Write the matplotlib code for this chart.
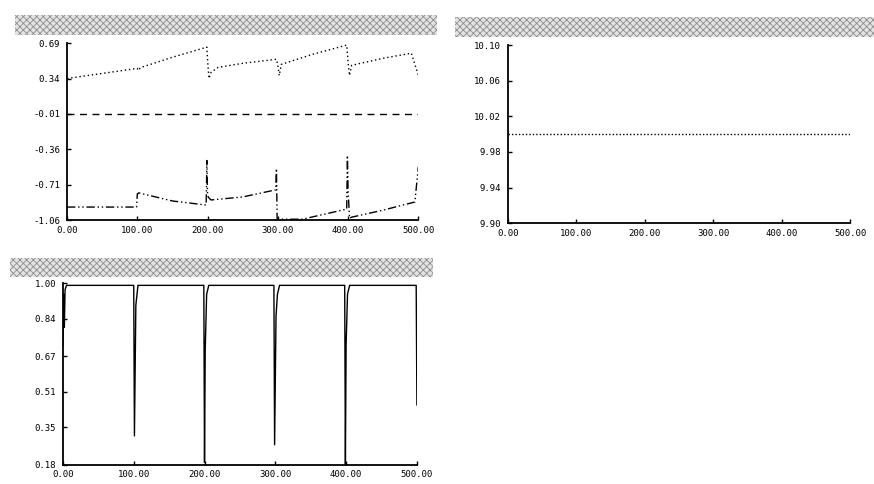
import matplotlib
matplotlib.use("Agg")
import matplotlib.pyplot as plt
from matplotlib.patches import Rectangle

# ── data ─────────────────────────────────────────────────────
x_ticks = [0, 100, 200, 300, 400, 500]
x_labels = ["0.00", "100.00", "200.00", "300.00", "400.00", "500.00"]

# panel 1 (top left)
p1_yticks = [-1.06, -0.71, -0.36, -0.01, 0.34, 0.69]
upper_x = [0, 60, 100, 101, 105, 110, 150, 199, 200, 202, 205, 215, 250, 298, 300, 302, 305, 350, 398, 400, 402, 405, 450, 490, 500]
upper_y = [0.34, 0.40, 0.44, 0.42, 0.45, 0.46, 0.55, 0.65, 0.52, 0.34, 0.40, 0.45, 0.49, 0.53, 0.47, 0.37, 0.48, 0.58, 0.67, 0.50, 0.37, 0.47, 0.54, 0.59, 0.37]
mid_x = [0, 500]
mid_y = [-0.01, -0.01]
lower_x = [0, 99, 100, 102, 150, 198, 199, 200, 202, 205, 250, 297, 298, 299, 301, 335, 398, 399, 400, 401, 402, 405, 450, 495, 500]
lower_y = [-0.93, -0.93, -0.80, -0.79, -0.87, -0.91, -0.47, -0.82, -0.84, -0.86, -0.83, -0.76, -0.55, -1.05, -1.05, -1.05, -0.95, -0.42, -0.78, -0.90, -1.04, -1.03, -0.96, -0.88, -0.53]

# panel 2 (top right)
p2_yticks = [9.90, 9.94, 9.98, 10.02, 10.06, 10.10]
flat_x = [0, 500]
flat_y = [10.00, 10.00]

# panel 3 (bottom left)
p3_yticks = [0.18, 0.35, 0.51, 0.67, 0.84, 1.00]
frac_x = [0, 1, 2, 3, 5, 100, 101, 103, 106, 199, 200, 201, 203, 206, 298, 299, 301, 303, 306, 398, 399, 400, 402, 405, 498, 499, 500]
frac_y = [0.72, 0.95, 0.80, 0.97, 0.99, 0.99, 0.31, 0.90, 0.99, 0.99, 0.19, 0.70, 0.95, 0.99, 0.99, 0.27, 0.85, 0.95, 0.99, 0.99, 0.18, 0.72, 0.95, 0.99, 0.99, 0.99, 0.45]

plt.rcParams.update({
    "font.family": "DejaVu Sans Mono",
    "font.size": 6.5,
    "hatch.color": "#8c8c8c",
    "hatch.linewidth": 0.6,
})

fig = plt.figure(figsize=(8.74, 4.84), dpi=100)


def _title_bar(x0, y0, x1, y1):
    # pixel box → figure fraction; hatched grey strip like the scan
    W, H = 874, 484
    fig.patches.append(Rectangle(
        (x0 / W, 1 - y1 / H), (x1 - x0) / W, (y1 - y0) / H,
        transform=fig.transFigure, facecolor="#e4e4e4",
        edgecolor="#8c8c8c", linewidth=0, hatch="xxxxx", zorder=0))


def _style(ax, yticks, fmt="{:.2f}"):
    ax.set_xlim(0, 500)
    ax.set_ylim(yticks[0], yticks[-1])
    ax.set_xticks(x_ticks)
    ax.set_xticklabels(x_labels)
    ax.set_yticks(yticks)
    ax.set_yticklabels([fmt.format(v) for v in yticks])
    for s in ["top", "right"]:
        ax.spines[s].set_visible(False)
    for s in ["left", "bottom"]:
        ax.spines[s].set_linewidth(1.3)
    ax.tick_params(direction="in", length=3, width=1, labelsize=6.5)
    ax.tick_params(axis="y", pad=5)
    ax.tick_params(axis="x", pad=4)


# ── top left ────────────────────────────────────────────────
_title_bar(15, 15, 437, 35)
ax1 = fig.add_axes([0.0767, 0.545, 0.402, 0.366])
ax1.plot(upper_x, upper_y, color="black", lw=1.0, ls=(0, (1, 2)))
ax1.plot(mid_x, mid_y, color="black", lw=1.0, ls=(0, (5, 4)))
ax1.plot(lower_x, lower_y, color="black", lw=1.0,
         ls=(0, (6, 2, 1, 2, 1, 2)))
_style(ax1, p1_yticks)

# ── top right ───────────────────────────────────────────────
_title_bar(455, 17, 874, 37)
ax2 = fig.add_axes([0.581, 0.539, 0.392, 0.368])
ax2.plot(flat_x, flat_y, color="black", lw=1.0, ls=(0, (1, 1.5)))
_style(ax2, p2_yticks)

# ── bottom left ─────────────────────────────────────────────
_title_bar(10, 258, 433, 277)
ax3 = fig.add_axes([0.072, 0.040, 0.405, 0.375])
ax3.plot(frac_x, frac_y, color="black", lw=1.0)
_style(ax3, p3_yticks)

fig.savefig("out.png", dpi=100, facecolor="white")
